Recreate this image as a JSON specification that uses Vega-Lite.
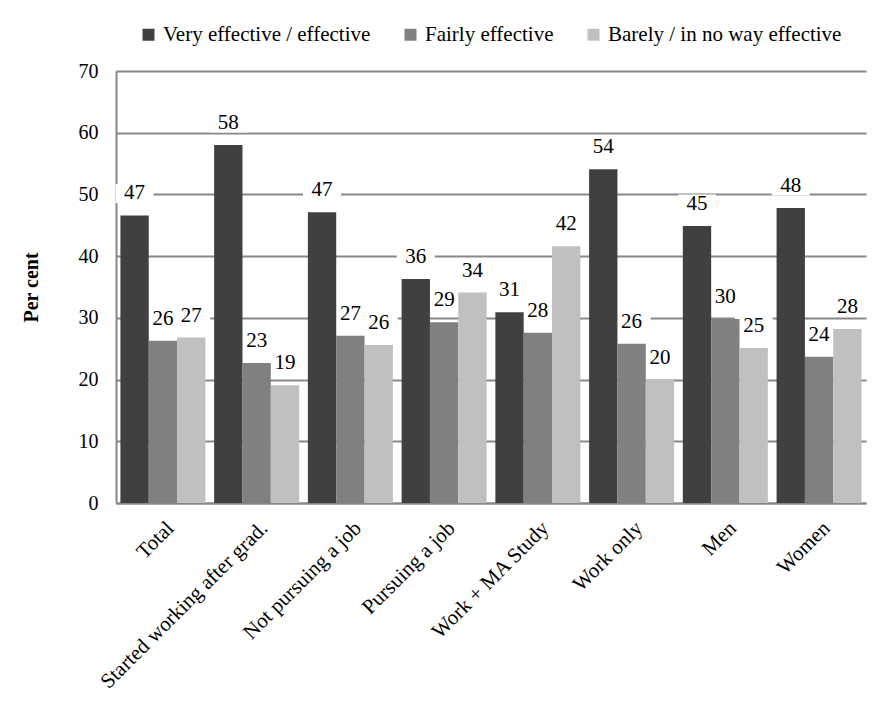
{
  "$schema": "https://vega.github.io/schema/vega-lite/v6.json",
  "width": 750,
  "height": 432,
  "autosize": {"type": "none"},
  "padding": {"left": 116, "top": 71, "right": 15, "bottom": 198},
  "background": "white",
  "config": {
    "font": "Liberation Serif, Times New Roman, serif",
    "view": {"stroke": null},
    "text": {"font": "Liberation Serif, Times New Roman, serif"},
    "axis": {
      "labelColor": "#000000",
      "titleColor": "#000000",
      "labelFont": "Liberation Serif, Times New Roman, serif",
      "titleFont": "Liberation Serif, Times New Roman, serif",
      "domainColor": "#888888",
      "domainWidth": 2,
      "gridColor": "#888888",
      "gridWidth": 2,
      "ticks": false
    },
    "legend": {
      "labelFont": "Liberation Serif, Times New Roman, serif",
      "labelColor": "#000000"
    }
  },
  "data": {
    "values": [
      {"group": "Total", "rating": "Very effective / effective", "pct": 46.6},
      {"group": "Total", "rating": "Fairly effective", "pct": 26.3},
      {"group": "Total", "rating": "Barely / in no way effective", "pct": 26.8},
      {"group": "Started working after grad.", "rating": "Very effective / effective", "pct": 58.0},
      {"group": "Started working after grad.", "rating": "Fairly effective", "pct": 22.7},
      {"group": "Started working after grad.", "rating": "Barely / in no way effective", "pct": 19.1},
      {"group": "Not pursuing a job", "rating": "Very effective / effective", "pct": 47.1},
      {"group": "Not pursuing a job", "rating": "Fairly effective", "pct": 27.1},
      {"group": "Not pursuing a job", "rating": "Barely / in no way effective", "pct": 25.6},
      {"group": "Pursuing a job", "rating": "Very effective / effective", "pct": 36.3},
      {"group": "Pursuing a job", "rating": "Fairly effective", "pct": 29.3},
      {"group": "Pursuing a job", "rating": "Barely / in no way effective", "pct": 34.1},
      {"group": "Work + MA Study", "rating": "Very effective / effective", "pct": 30.9},
      {"group": "Work + MA Study", "rating": "Fairly effective", "pct": 27.6},
      {"group": "Work + MA Study", "rating": "Barely / in no way effective", "pct": 41.6},
      {"group": "Work only", "rating": "Very effective / effective", "pct": 54.1},
      {"group": "Work only", "rating": "Fairly effective", "pct": 25.8},
      {"group": "Work only", "rating": "Barely / in no way effective", "pct": 20.0},
      {"group": "Men", "rating": "Very effective / effective", "pct": 44.9},
      {"group": "Men", "rating": "Fairly effective", "pct": 29.8},
      {"group": "Men", "rating": "Barely / in no way effective", "pct": 25.1},
      {"group": "Women", "rating": "Very effective / effective", "pct": 47.8},
      {"group": "Women", "rating": "Fairly effective", "pct": 23.7},
      {"group": "Women", "rating": "Barely / in no way effective", "pct": 28.2}
    ]
  },
  "encoding": {
    "x": {
      "field": "group",
      "type": "nominal",
      "sort": null,
      "scale": {"paddingInner": 0.093, "paddingOuter": 0.047},
      "axis": {
        "title": null,
        "labelAngle": -45,
        "labelAlign": "right",
        "labelBaseline": "top",
        "labelFontSize": 21,
        "labelPadding": 14,
        "labelLimit": 0,
        "grid": false
      }
    },
    "xOffset": {
      "field": "rating",
      "type": "nominal",
      "sort": ["Very effective / effective", "Fairly effective", "Barely / in no way effective"],
      "scale": {"paddingInner": 0, "paddingOuter": 0}
    },
    "y": {
      "field": "pct",
      "type": "quantitative",
      "scale": {"domain": [0, 70], "nice": false},
      "axis": {
        "title": "Per cent",
        "titleFontSize": 20,
        "titleFontWeight": "bold",
        "titlePadding": 37,
        "labelFontSize": 20,
        "labelPadding": 18,
        "values": [0, 10, 20, 30, 40, 50, 60, 70],
        "grid": true
      }
    }
  },
  "layer": [
    {
      "mark": {
        "type": "point",
        "shape": "M-1,-0.5H1V0.5H-1Z",
        "size": 1444,
        "filled": true,
        "fill": "white",
        "opacity": 1,
        "strokeWidth": 0,
        "yOffset": -22
      }
    },
    {
      "mark": {"type": "bar"},
      "encoding": {
        "color": {
          "field": "rating",
          "type": "nominal",
          "sort": ["Very effective / effective", "Fairly effective", "Barely / in no way effective"],
          "scale": {
            "domain": ["Very effective / effective", "Fairly effective", "Barely / in no way effective"],
            "range": ["#404040", "#808080", "#c0c0c0"]
          },
          "legend": {
            "title": null,
            "orient": "none",
            "direction": "horizontal",
            "legendX": 22,
            "legendY": -47,
            "symbolType": "square",
            "symbolSize": 144,
            "symbolStrokeWidth": 0,
            "labelFont": "Liberation Serif, Times New Roman, serif",
            "labelFontSize": 21,
            "labelOffset": 4,
            "columnPadding": 29,
            "labelLimit": 0
          }
        }
      }
    },
    {
      "mark": {
        "type": "text",
        "font": "Liberation Serif, Times New Roman, serif",
        "dy": -22,
        "fontSize": 21,
        "baseline": "middle",
        "color": "#000000"
      },
      "encoding": {
        "text": {"field": "pct", "type": "quantitative", "format": ".0f"}
      }
    }
  ]
}
